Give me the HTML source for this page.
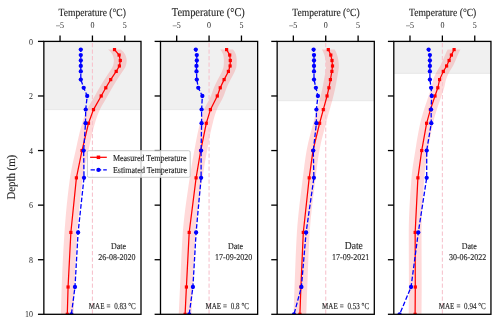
<!DOCTYPE html><html><head><meta charset="utf-8"><style>html,body{margin:0;padding:0;background:#fff;width:500px;height:322px;overflow:hidden}svg{display:block;will-change:transform}text{font-family:'Liberation Serif', serif;fill:#262626;stroke:#262626;stroke-width:0.12px;text-rendering:geometricPrecision}</style></head><body>
<svg width="500" height="322" viewBox="0 0 500 322">
<defs>
<clipPath id="c0"><rect x="43.85" y="41.40" width="97.15" height="272.90"/></clipPath>
<clipPath id="c1"><rect x="160.50" y="41.40" width="97.15" height="272.90"/></clipPath>
<clipPath id="c2"><rect x="277.15" y="41.40" width="97.15" height="272.90"/></clipPath>
<clipPath id="c3"><rect x="393.80" y="41.40" width="97.15" height="272.90"/></clipPath>
</defs>
<g clip-path="url(#c0)">
<rect x="43.85" y="41.40" width="97.15" height="68.20" fill="#f0f0f0"/>
<line x1="43.85" y1="109.60" x2="141.00" y2="109.60" stroke="#e4e4e4" stroke-width="0.8"/>
<polygon points="108.10,49.59 110.53,51.86 112.29,54.14 113.16,56.41 113.73,58.69 113.89,60.96 113.62,63.24 113.11,65.51 112.21,67.79 110.71,70.06 109.22,72.34 107.68,74.61 106.11,76.89 104.58,79.16 103.16,81.44 101.79,83.71 100.45,85.99 99.13,88.26 97.84,90.54 96.57,92.81 95.30,95.08 94.01,97.36 92.65,99.63 91.28,101.91 89.94,104.18 88.66,106.46 87.51,108.73 86.50,111.01 85.56,113.28 84.67,115.56 83.85,117.83 83.08,120.11 82.37,122.38 81.70,124.66 81.06,126.93 80.46,129.21 79.88,131.48 79.33,133.76 78.80,136.03 78.28,138.31 77.77,140.58 77.27,142.86 76.78,145.13 76.29,147.41 75.79,149.68 75.29,151.96 74.78,154.23 74.26,156.51 73.74,158.78 73.23,161.06 72.72,163.33 72.23,165.61 71.75,167.88 71.30,170.16 70.88,172.43 70.48,174.71 70.13,176.98 69.80,179.26 69.49,181.53 69.19,183.81 68.90,186.08 68.61,188.36 68.33,190.63 68.06,192.91 67.80,195.18 67.54,197.46 67.30,199.73 67.06,202.01 66.82,204.28 66.60,206.56 66.38,208.83 66.17,211.10 65.96,213.38 65.76,215.65 65.57,217.93 65.38,220.20 65.20,222.48 65.02,224.75 64.85,227.03 64.69,229.30 64.53,231.58 64.37,233.85 64.22,236.13 64.07,238.40 63.93,240.68 63.79,242.95 63.65,245.23 63.52,247.50 63.38,249.78 63.26,252.05 63.13,254.33 63.01,256.60 62.89,258.88 62.77,261.15 62.66,263.43 62.55,265.70 62.44,267.98 62.34,270.25 62.24,272.53 62.14,274.80 62.05,277.08 61.96,279.35 61.87,281.63 61.78,283.90 61.70,286.18 61.62,288.45 61.54,290.73 61.47,293.00 61.40,295.28 61.33,297.55 61.26,299.83 61.19,302.10 61.13,304.38 61.07,306.65 61.02,308.93 60.97,311.20 60.92,313.48 60.90,315.75 60.90,318.03 60.90,320.30 73.70,320.30 73.70,318.03 73.70,315.75 73.72,313.48 73.77,311.20 73.82,308.93 73.87,306.65 73.93,304.38 73.99,302.10 74.06,299.83 74.13,297.55 74.20,295.28 74.27,293.00 74.34,290.73 74.42,288.45 74.50,286.18 74.58,283.90 74.67,281.63 74.76,279.35 74.85,277.08 74.94,274.80 75.04,272.53 75.14,270.25 75.24,267.98 75.35,265.70 75.46,263.43 75.57,261.15 75.69,258.88 75.81,256.60 75.93,254.33 76.06,252.05 76.18,249.78 76.32,247.50 76.45,245.23 76.59,242.95 76.73,240.68 76.87,238.40 77.02,236.13 77.17,233.85 77.33,231.58 77.49,229.30 77.65,227.03 77.82,224.75 78.00,222.48 78.18,220.20 78.37,217.93 78.56,215.65 78.76,213.38 78.97,211.10 79.18,208.83 79.40,206.56 79.62,204.28 79.86,202.01 80.10,199.73 80.34,197.46 80.60,195.18 80.86,192.91 81.13,190.63 81.41,188.36 81.70,186.08 81.99,183.81 82.29,181.53 82.60,179.26 82.93,176.98 83.28,174.71 83.68,172.43 84.10,170.16 84.55,167.88 85.03,165.61 85.52,163.33 86.03,161.06 86.54,158.78 87.06,156.51 87.58,154.23 88.09,151.96 88.59,149.68 89.09,147.41 89.58,145.13 90.07,142.86 90.57,140.58 91.08,138.31 91.60,136.03 92.13,133.76 92.68,131.48 93.26,129.21 93.86,126.93 94.50,124.66 95.17,122.38 95.88,120.11 96.65,117.83 97.47,115.56 98.36,113.28 99.30,111.01 100.31,108.73 101.46,106.46 102.74,104.18 104.08,101.91 105.45,99.63 106.81,97.36 108.10,95.08 109.37,92.81 110.64,90.54 111.93,88.26 113.25,85.99 114.59,83.71 115.96,81.44 117.38,79.16 118.91,76.89 120.48,74.61 122.02,72.34 123.51,70.06 125.01,67.79 125.91,65.51 126.42,63.24 126.69,60.96 126.53,58.69 125.96,56.41 125.09,54.14 123.33,51.86 120.90,49.59" fill="#ff0000" fill-opacity="0.15"/>
<line x1="92.43" y1="41.4" x2="92.43" y2="314.3" stroke="#f7c4ce" stroke-width="1.1" stroke-dasharray="4.3 2.2" stroke-dashoffset="5.0"/>
<polyline points="114.50,49.59 119.10,55.05 120.30,60.50 119.40,65.96 116.20,71.42 110.70,79.61 105.80,87.79 101.20,95.98 93.50,109.62 88.50,123.27 82.00,150.56 76.40,177.85 70.87,232.43 68.07,287.01 67.30,314.30" fill="none" stroke="#ff0000" stroke-width="1.25"/>
<rect x="112.90" y="47.99" width="3.2" height="3.2" fill="#ff0000"/>
<rect x="117.50" y="53.45" width="3.2" height="3.2" fill="#ff0000"/>
<rect x="118.70" y="58.90" width="3.2" height="3.2" fill="#ff0000"/>
<rect x="117.80" y="64.36" width="3.2" height="3.2" fill="#ff0000"/>
<rect x="114.60" y="69.82" width="3.2" height="3.2" fill="#ff0000"/>
<rect x="109.10" y="78.01" width="3.2" height="3.2" fill="#ff0000"/>
<rect x="104.20" y="86.19" width="3.2" height="3.2" fill="#ff0000"/>
<rect x="99.60" y="94.38" width="3.2" height="3.2" fill="#ff0000"/>
<rect x="91.90" y="108.03" width="3.2" height="3.2" fill="#ff0000"/>
<rect x="86.90" y="121.67" width="3.2" height="3.2" fill="#ff0000"/>
<rect x="80.40" y="148.96" width="3.2" height="3.2" fill="#ff0000"/>
<rect x="74.80" y="176.25" width="3.2" height="3.2" fill="#ff0000"/>
<rect x="69.27" y="230.83" width="3.2" height="3.2" fill="#ff0000"/>
<rect x="66.47" y="285.41" width="3.2" height="3.2" fill="#ff0000"/>
<rect x="65.70" y="312.70" width="3.2" height="3.2" fill="#ff0000"/>
<polyline points="80.80,49.59 80.80,55.05 80.80,60.50 80.80,65.96 80.80,71.42 80.80,79.61 83.70,87.79 87.20,95.98 85.70,109.62 85.50,123.27 83.66,150.56 84.00,177.85 78.10,232.43 74.97,287.01 71.40,314.30" fill="none" stroke="#0000ff" stroke-width="1.3" stroke-dasharray="4.6 2" stroke-dashoffset="2.3"/>
<circle cx="80.80" cy="49.59" r="2.15" fill="#0000ff"/>
<circle cx="80.80" cy="55.05" r="2.15" fill="#0000ff"/>
<circle cx="80.80" cy="60.50" r="2.15" fill="#0000ff"/>
<circle cx="80.80" cy="65.96" r="2.15" fill="#0000ff"/>
<circle cx="80.80" cy="71.42" r="2.15" fill="#0000ff"/>
<circle cx="80.80" cy="79.61" r="2.15" fill="#0000ff"/>
<circle cx="83.70" cy="87.79" r="2.15" fill="#0000ff"/>
<circle cx="87.20" cy="95.98" r="2.15" fill="#0000ff"/>
<circle cx="85.70" cy="109.62" r="2.15" fill="#0000ff"/>
<circle cx="85.50" cy="123.27" r="2.15" fill="#0000ff"/>
<circle cx="83.66" cy="150.56" r="2.15" fill="#0000ff"/>
<circle cx="84.00" cy="177.85" r="2.15" fill="#0000ff"/>
<circle cx="78.10" cy="232.43" r="2.15" fill="#0000ff"/>
<circle cx="74.97" cy="287.01" r="2.15" fill="#0000ff"/>
<circle cx="71.40" cy="314.30" r="2.15" fill="#0000ff"/>
</g>
<rect x="43.85" y="41.40" width="97.15" height="272.90" fill="none" stroke="#000" stroke-width="1.3"/>
<line x1="60.04" y1="41.4" x2="60.04" y2="35.50" stroke="#000" stroke-width="1.3"/>
<text transform="translate(60.04,28.30) scale(1.0,1.12)" font-size="8.0" text-anchor="middle" style="stroke-width:0px">–5</text>
<line x1="92.43" y1="41.4" x2="92.43" y2="35.50" stroke="#000" stroke-width="1.3"/>
<text transform="translate(92.43,28.30) scale(1.0,1.12)" font-size="8.0" text-anchor="middle" style="stroke-width:0px">0</text>
<line x1="124.81" y1="41.4" x2="124.81" y2="35.50" stroke="#000" stroke-width="1.3"/>
<text transform="translate(124.81,28.30) scale(1.0,1.12)" font-size="8.0" text-anchor="middle" style="stroke-width:0px">5</text>
<line x1="37.95" y1="41.40" x2="43.85" y2="41.40" stroke="#000" stroke-width="1.3"/>
<text transform="translate(33.00,44.50) scale(1.0,1.12)" font-size="8.0" text-anchor="end" style="stroke-width:0px">0</text>
<line x1="37.95" y1="95.98" x2="43.85" y2="95.98" stroke="#000" stroke-width="1.3"/>
<text transform="translate(33.00,99.08) scale(1.0,1.12)" font-size="8.0" text-anchor="end" style="stroke-width:0px">2</text>
<line x1="37.95" y1="150.56" x2="43.85" y2="150.56" stroke="#000" stroke-width="1.3"/>
<text transform="translate(33.00,153.66) scale(1.0,1.12)" font-size="8.0" text-anchor="end" style="stroke-width:0px">4</text>
<line x1="37.95" y1="205.14" x2="43.85" y2="205.14" stroke="#000" stroke-width="1.3"/>
<text transform="translate(33.00,208.24) scale(1.0,1.12)" font-size="8.0" text-anchor="end" style="stroke-width:0px">6</text>
<line x1="37.95" y1="259.72" x2="43.85" y2="259.72" stroke="#000" stroke-width="1.3"/>
<text transform="translate(33.00,262.82) scale(1.0,1.12)" font-size="8.0" text-anchor="end" style="stroke-width:0px">8</text>
<line x1="37.95" y1="314.30" x2="43.85" y2="314.30" stroke="#000" stroke-width="1.3"/>
<text transform="translate(33.00,317.40) scale(1.0,1.12)" font-size="8.0" text-anchor="end" style="stroke-width:0px">10</text>
<text transform="translate(92.28,15.80) scale(1.0,1.15)" font-size="9.6" text-anchor="middle">Temperature (°C)</text>
<text transform="translate(118.45,249.20) scale(1.0,1.12)" font-size="8" text-anchor="middle">Date</text>
<text transform="translate(116.90,259.90) scale(1.0,1.12)" font-size="8" text-anchor="middle">26-08-2020</text>
<text transform="translate(88.75,309.20) scale(0.93,1.2)" font-size="7.6">MAE</text>
<text transform="translate(106.45,309.20) scale(0.93,1.2)" font-size="7.6">=</text>
<text transform="translate(114.15,309.20) scale(0.93,1.2)" font-size="7.6">0.83 °C</text>
<g clip-path="url(#c1)">
<rect x="160.50" y="41.40" width="97.15" height="68.20" fill="#f0f0f0"/>
<line x1="160.50" y1="109.60" x2="257.65" y2="109.60" stroke="#e4e4e4" stroke-width="0.8"/>
<polygon points="220.20,49.59 221.88,51.86 223.06,54.14 223.54,56.41 223.82,58.69 223.90,60.96 223.84,63.24 223.73,65.51 223.36,67.79 222.54,70.06 221.62,72.34 220.47,74.61 219.18,76.89 217.93,79.16 216.79,81.44 215.68,83.71 214.62,85.99 213.66,88.26 212.84,90.54 212.07,92.81 211.26,95.08 210.29,97.36 209.14,99.63 207.89,101.91 206.62,104.18 205.41,106.46 204.36,108.73 203.49,111.01 202.71,113.28 202.00,115.56 201.33,117.83 200.71,120.11 200.12,122.38 199.56,124.66 199.02,126.93 198.50,129.21 198.00,131.48 197.52,133.76 197.06,136.03 196.61,138.31 196.17,140.58 195.73,142.86 195.31,145.13 194.88,147.41 194.46,149.68 194.04,151.96 193.63,154.23 193.22,156.51 192.81,158.78 192.41,161.06 192.02,163.33 191.63,165.61 191.25,167.88 190.88,170.16 190.52,172.43 190.17,174.71 189.83,176.98 189.49,179.26 189.16,181.53 188.82,183.81 188.48,186.08 188.14,188.36 187.81,190.63 187.47,192.91 187.14,195.18 186.82,197.46 186.49,199.73 186.17,202.01 185.86,204.28 185.56,206.56 185.26,208.83 184.97,211.10 184.69,213.38 184.42,215.65 184.16,217.93 183.91,220.20 183.67,222.48 183.45,224.75 183.24,227.03 183.04,229.30 182.86,231.58 182.70,233.85 182.54,236.13 182.39,238.40 182.25,240.68 182.11,242.95 181.98,245.23 181.85,247.50 181.73,249.78 181.61,252.05 181.50,254.33 181.38,256.60 181.28,258.88 181.17,261.15 181.07,263.43 180.97,265.70 180.87,267.98 180.77,270.25 180.67,272.53 180.56,274.80 180.46,277.08 180.36,279.35 180.26,281.63 180.15,283.90 180.04,286.18 179.93,288.45 179.82,290.73 179.71,293.00 179.60,295.28 179.49,297.55 179.38,299.83 179.27,302.10 179.16,304.38 179.06,306.65 178.95,308.93 178.84,311.20 178.74,313.48 178.70,315.75 178.70,318.03 178.70,320.30 191.50,320.30 191.50,318.03 191.50,315.75 191.54,313.48 191.64,311.20 191.75,308.93 191.86,306.65 191.96,304.38 192.07,302.10 192.18,299.83 192.29,297.55 192.40,295.28 192.51,293.00 192.62,290.73 192.73,288.45 192.84,286.18 192.95,283.90 193.06,281.63 193.16,279.35 193.26,277.08 193.36,274.80 193.47,272.53 193.57,270.25 193.67,267.98 193.77,265.70 193.87,263.43 193.97,261.15 194.08,258.88 194.18,256.60 194.30,254.33 194.41,252.05 194.53,249.78 194.65,247.50 194.78,245.23 194.91,242.95 195.05,240.68 195.19,238.40 195.34,236.13 195.50,233.85 195.66,231.58 195.84,229.30 196.04,227.03 196.25,224.75 196.47,222.48 196.71,220.20 196.96,217.93 197.22,215.65 197.49,213.38 197.77,211.10 198.06,208.83 198.36,206.56 198.66,204.28 198.97,202.01 199.29,199.73 199.62,197.46 199.94,195.18 200.27,192.91 200.61,190.63 200.94,188.36 201.28,186.08 201.62,183.81 201.96,181.53 202.29,179.26 202.63,176.98 202.97,174.71 203.32,172.43 203.68,170.16 204.05,167.88 204.43,165.61 204.82,163.33 205.21,161.06 205.61,158.78 206.02,156.51 206.43,154.23 206.84,151.96 207.26,149.68 207.68,147.41 208.11,145.13 208.53,142.86 208.97,140.58 209.41,138.31 209.86,136.03 210.32,133.76 210.80,131.48 211.30,129.21 211.82,126.93 212.36,124.66 212.92,122.38 213.51,120.11 214.13,117.83 214.80,115.56 215.51,113.28 216.29,111.01 217.16,108.73 218.21,106.46 219.42,104.18 220.69,101.91 221.94,99.63 223.09,97.36 224.06,95.08 224.87,92.81 225.64,90.54 226.46,88.26 227.42,85.99 228.48,83.71 229.59,81.44 230.73,79.16 231.98,76.89 233.27,74.61 234.42,72.34 235.34,70.06 236.16,67.79 236.53,65.51 236.64,63.24 236.70,60.96 236.62,58.69 236.34,56.41 235.86,54.14 234.68,51.86 233.00,49.59" fill="#ff0000" fill-opacity="0.15"/>
<line x1="209.07" y1="41.4" x2="209.07" y2="314.3" stroke="#f7c4ce" stroke-width="1.1" stroke-dasharray="4.3 2.2" stroke-dashoffset="5.0"/>
<polyline points="226.60,49.59 229.70,55.05 230.30,60.50 230.10,65.96 228.40,71.42 224.10,79.61 220.25,87.79 217.30,95.98 210.40,109.62 206.30,123.27 200.70,150.56 196.10,177.85 189.20,232.43 186.40,287.01 185.10,314.30" fill="none" stroke="#ff0000" stroke-width="1.25"/>
<rect x="225.00" y="47.99" width="3.2" height="3.2" fill="#ff0000"/>
<rect x="228.10" y="53.45" width="3.2" height="3.2" fill="#ff0000"/>
<rect x="228.70" y="58.90" width="3.2" height="3.2" fill="#ff0000"/>
<rect x="228.50" y="64.36" width="3.2" height="3.2" fill="#ff0000"/>
<rect x="226.80" y="69.82" width="3.2" height="3.2" fill="#ff0000"/>
<rect x="222.50" y="78.01" width="3.2" height="3.2" fill="#ff0000"/>
<rect x="218.65" y="86.19" width="3.2" height="3.2" fill="#ff0000"/>
<rect x="215.70" y="94.38" width="3.2" height="3.2" fill="#ff0000"/>
<rect x="208.80" y="108.03" width="3.2" height="3.2" fill="#ff0000"/>
<rect x="204.70" y="121.67" width="3.2" height="3.2" fill="#ff0000"/>
<rect x="199.10" y="148.96" width="3.2" height="3.2" fill="#ff0000"/>
<rect x="194.50" y="176.25" width="3.2" height="3.2" fill="#ff0000"/>
<rect x="187.60" y="230.83" width="3.2" height="3.2" fill="#ff0000"/>
<rect x="184.80" y="285.41" width="3.2" height="3.2" fill="#ff0000"/>
<rect x="183.50" y="312.70" width="3.2" height="3.2" fill="#ff0000"/>
<polyline points="195.80,49.59 196.80,55.05 196.80,60.50 196.50,65.96 196.50,71.42 196.80,79.61 198.26,87.79 202.36,95.98 201.60,109.62 201.60,123.27 201.10,150.56 201.10,177.85 196.10,232.43 192.90,287.01 189.20,314.30" fill="none" stroke="#0000ff" stroke-width="1.3" stroke-dasharray="4.6 2" stroke-dashoffset="2.3"/>
<circle cx="195.80" cy="49.59" r="2.15" fill="#0000ff"/>
<circle cx="196.80" cy="55.05" r="2.15" fill="#0000ff"/>
<circle cx="196.80" cy="60.50" r="2.15" fill="#0000ff"/>
<circle cx="196.50" cy="65.96" r="2.15" fill="#0000ff"/>
<circle cx="196.50" cy="71.42" r="2.15" fill="#0000ff"/>
<circle cx="196.80" cy="79.61" r="2.15" fill="#0000ff"/>
<circle cx="198.26" cy="87.79" r="2.15" fill="#0000ff"/>
<circle cx="202.36" cy="95.98" r="2.15" fill="#0000ff"/>
<circle cx="201.60" cy="109.62" r="2.15" fill="#0000ff"/>
<circle cx="201.60" cy="123.27" r="2.15" fill="#0000ff"/>
<circle cx="201.10" cy="150.56" r="2.15" fill="#0000ff"/>
<circle cx="201.10" cy="177.85" r="2.15" fill="#0000ff"/>
<circle cx="196.10" cy="232.43" r="2.15" fill="#0000ff"/>
<circle cx="192.90" cy="287.01" r="2.15" fill="#0000ff"/>
<circle cx="189.20" cy="314.30" r="2.15" fill="#0000ff"/>
</g>
<rect x="160.50" y="41.40" width="97.15" height="272.90" fill="none" stroke="#000" stroke-width="1.3"/>
<line x1="176.69" y1="41.4" x2="176.69" y2="35.50" stroke="#000" stroke-width="1.3"/>
<text transform="translate(176.69,28.30) scale(1.0,1.12)" font-size="8.0" text-anchor="middle" style="stroke-width:0px">–5</text>
<line x1="209.07" y1="41.4" x2="209.07" y2="35.50" stroke="#000" stroke-width="1.3"/>
<text transform="translate(209.07,28.30) scale(1.0,1.12)" font-size="8.0" text-anchor="middle" style="stroke-width:0px">0</text>
<line x1="241.46" y1="41.4" x2="241.46" y2="35.50" stroke="#000" stroke-width="1.3"/>
<text transform="translate(241.46,28.30) scale(1.0,1.12)" font-size="8.0" text-anchor="middle" style="stroke-width:0px">5</text>
<line x1="154.60" y1="41.40" x2="160.50" y2="41.40" stroke="#000" stroke-width="1.3"/>
<line x1="154.60" y1="95.98" x2="160.50" y2="95.98" stroke="#000" stroke-width="1.3"/>
<line x1="154.60" y1="150.56" x2="160.50" y2="150.56" stroke="#000" stroke-width="1.3"/>
<line x1="154.60" y1="205.14" x2="160.50" y2="205.14" stroke="#000" stroke-width="1.3"/>
<line x1="154.60" y1="259.72" x2="160.50" y2="259.72" stroke="#000" stroke-width="1.3"/>
<line x1="154.60" y1="314.30" x2="160.50" y2="314.30" stroke="#000" stroke-width="1.3"/>
<text transform="translate(208.32,15.80) scale(1.0,1.15)" font-size="10.4" text-anchor="middle">Temperature (°C)</text>
<text transform="translate(235.45,249.20) scale(1.0,1.12)" font-size="8" text-anchor="middle">Date</text>
<text transform="translate(233.65,259.90) scale(1.0,1.12)" font-size="8" text-anchor="middle">17-09-2020</text>
<text transform="translate(205.40,309.20) scale(0.93,1.2)" font-size="7.6">MAE</text>
<text transform="translate(223.10,309.20) scale(0.93,1.2)" font-size="7.6">=</text>
<text transform="translate(230.80,309.20) scale(0.93,1.2)" font-size="7.6">0.8 °C</text>
<g clip-path="url(#c2)">
<rect x="277.15" y="41.40" width="97.15" height="59.30" fill="#f0f0f0"/>
<line x1="277.15" y1="100.70" x2="374.30" y2="100.70" stroke="#e4e4e4" stroke-width="0.8"/>
<polygon points="321.90,49.59 323.12,51.86 324.10,54.14 324.78,56.41 325.31,58.69 325.66,60.96 325.94,63.24 326.09,65.51 326.00,67.79 325.70,70.06 325.37,72.34 324.97,74.61 324.53,76.89 324.08,79.16 323.67,81.44 323.27,83.71 322.85,85.99 322.40,88.26 321.92,90.54 321.41,92.81 320.87,95.08 320.30,97.36 319.70,99.63 319.07,101.91 318.43,104.18 317.78,106.46 317.14,108.73 316.52,111.01 315.89,113.28 315.27,115.56 314.64,117.83 314.03,120.11 313.43,122.38 312.84,124.66 312.24,126.93 311.64,129.21 311.04,131.48 310.44,133.76 309.85,136.03 309.27,138.31 308.72,140.58 308.18,142.86 307.67,145.13 307.20,147.41 306.76,149.68 306.36,151.96 305.98,154.23 305.62,156.51 305.28,158.78 304.95,161.06 304.64,163.33 304.33,165.61 304.04,167.88 303.75,170.16 303.47,172.43 303.19,174.71 302.91,176.98 302.63,179.26 302.34,181.53 302.06,183.81 301.77,186.08 301.48,188.36 301.20,190.63 300.91,192.91 300.63,195.18 300.35,197.46 300.07,199.73 299.80,202.01 299.53,204.28 299.27,206.56 299.02,208.83 298.77,211.10 298.52,213.38 298.29,215.65 298.07,217.93 297.85,220.20 297.65,222.48 297.46,224.75 297.28,227.03 297.11,229.30 296.95,231.58 296.81,233.85 296.68,236.13 296.55,238.40 296.42,240.68 296.30,242.95 296.19,245.23 296.08,247.50 295.97,249.78 295.87,252.05 295.77,254.33 295.67,256.60 295.58,258.88 295.49,261.15 295.40,263.43 295.31,265.70 295.22,267.98 295.14,270.25 295.05,272.53 294.97,274.80 294.88,277.08 294.79,279.35 294.71,281.63 294.62,283.90 294.53,286.18 294.44,288.45 294.35,290.73 294.27,293.00 294.18,295.28 294.10,297.55 294.01,299.83 293.93,302.10 293.85,304.38 293.77,306.65 293.69,308.93 293.61,311.20 293.53,313.48 293.50,315.75 293.50,318.03 293.50,320.30 306.30,320.30 306.30,318.03 306.30,315.75 306.33,313.48 306.41,311.20 306.49,308.93 306.57,306.65 306.65,304.38 306.73,302.10 306.81,299.83 306.90,297.55 306.98,295.28 307.07,293.00 307.15,290.73 307.24,288.45 307.33,286.18 307.42,283.90 307.51,281.63 307.59,279.35 307.68,277.08 307.77,274.80 307.85,272.53 307.94,270.25 308.02,267.98 308.11,265.70 308.20,263.43 308.29,261.15 308.38,258.88 308.47,256.60 308.57,254.33 308.67,252.05 308.77,249.78 308.88,247.50 308.99,245.23 309.10,242.95 309.22,240.68 309.35,238.40 309.48,236.13 309.61,233.85 309.75,231.58 309.91,229.30 310.08,227.03 310.26,224.75 310.45,222.48 310.65,220.20 310.87,217.93 311.09,215.65 311.32,213.38 311.57,211.10 311.82,208.83 312.07,206.56 312.33,204.28 312.60,202.01 312.87,199.73 313.15,197.46 313.43,195.18 313.71,192.91 314.00,190.63 314.28,188.36 314.57,186.08 314.86,183.81 315.14,181.53 315.43,179.26 315.71,176.98 315.99,174.71 316.27,172.43 316.55,170.16 316.84,167.88 317.13,165.61 317.44,163.33 317.75,161.06 318.08,158.78 318.42,156.51 318.78,154.23 319.16,151.96 319.56,149.68 320.00,147.41 320.47,145.13 320.98,142.86 321.52,140.58 322.07,138.31 322.65,136.03 323.24,133.76 323.84,131.48 324.44,129.21 325.04,126.93 325.64,124.66 326.23,122.38 326.83,120.11 327.44,117.83 328.07,115.56 328.69,113.28 329.32,111.01 329.94,108.73 330.58,106.46 331.23,104.18 331.87,101.91 332.50,99.63 333.10,97.36 333.67,95.08 334.21,92.81 334.72,90.54 335.20,88.26 335.65,85.99 336.07,83.71 336.47,81.44 336.88,79.16 337.33,76.89 337.77,74.61 338.17,72.34 338.50,70.06 338.80,67.79 338.89,65.51 338.74,63.24 338.46,60.96 338.11,58.69 337.58,56.41 336.90,54.14 335.92,51.86 334.70,49.59" fill="#ff0000" fill-opacity="0.15"/>
<line x1="325.73" y1="41.4" x2="325.73" y2="314.3" stroke="#f7c4ce" stroke-width="1.1" stroke-dasharray="4.3 2.2" stroke-dashoffset="5.0"/>
<polyline points="328.30,49.59 330.80,55.05 332.00,60.50 332.50,65.96 331.90,71.42 330.40,79.61 328.90,87.79 327.05,95.98 323.30,109.62 319.60,123.27 313.00,150.56 309.20,177.85 303.30,232.43 300.90,287.01 299.90,314.30" fill="none" stroke="#ff0000" stroke-width="1.25"/>
<rect x="326.70" y="47.99" width="3.2" height="3.2" fill="#ff0000"/>
<rect x="329.20" y="53.45" width="3.2" height="3.2" fill="#ff0000"/>
<rect x="330.40" y="58.90" width="3.2" height="3.2" fill="#ff0000"/>
<rect x="330.90" y="64.36" width="3.2" height="3.2" fill="#ff0000"/>
<rect x="330.30" y="69.82" width="3.2" height="3.2" fill="#ff0000"/>
<rect x="328.80" y="78.01" width="3.2" height="3.2" fill="#ff0000"/>
<rect x="327.30" y="86.19" width="3.2" height="3.2" fill="#ff0000"/>
<rect x="325.45" y="94.38" width="3.2" height="3.2" fill="#ff0000"/>
<rect x="321.70" y="108.03" width="3.2" height="3.2" fill="#ff0000"/>
<rect x="318.00" y="121.67" width="3.2" height="3.2" fill="#ff0000"/>
<rect x="311.40" y="148.96" width="3.2" height="3.2" fill="#ff0000"/>
<rect x="307.60" y="176.25" width="3.2" height="3.2" fill="#ff0000"/>
<rect x="301.70" y="230.83" width="3.2" height="3.2" fill="#ff0000"/>
<rect x="299.30" y="285.41" width="3.2" height="3.2" fill="#ff0000"/>
<rect x="298.30" y="312.70" width="3.2" height="3.2" fill="#ff0000"/>
<polyline points="313.60,49.59 314.00,55.05 314.00,60.50 314.00,65.96 314.00,71.42 314.00,79.61 315.90,87.79 317.90,95.98 316.40,109.62 316.40,123.27 313.30,150.56 313.90,177.85 306.10,232.43 301.40,287.01 294.00,314.30" fill="none" stroke="#0000ff" stroke-width="1.3" stroke-dasharray="4.6 2" stroke-dashoffset="2.3"/>
<circle cx="313.60" cy="49.59" r="2.15" fill="#0000ff"/>
<circle cx="314.00" cy="55.05" r="2.15" fill="#0000ff"/>
<circle cx="314.00" cy="60.50" r="2.15" fill="#0000ff"/>
<circle cx="314.00" cy="65.96" r="2.15" fill="#0000ff"/>
<circle cx="314.00" cy="71.42" r="2.15" fill="#0000ff"/>
<circle cx="314.00" cy="79.61" r="2.15" fill="#0000ff"/>
<circle cx="315.90" cy="87.79" r="2.15" fill="#0000ff"/>
<circle cx="317.90" cy="95.98" r="2.15" fill="#0000ff"/>
<circle cx="316.40" cy="109.62" r="2.15" fill="#0000ff"/>
<circle cx="316.40" cy="123.27" r="2.15" fill="#0000ff"/>
<circle cx="313.30" cy="150.56" r="2.15" fill="#0000ff"/>
<circle cx="313.90" cy="177.85" r="2.15" fill="#0000ff"/>
<circle cx="306.10" cy="232.43" r="2.15" fill="#0000ff"/>
<circle cx="301.40" cy="287.01" r="2.15" fill="#0000ff"/>
<circle cx="294.00" cy="314.30" r="2.15" fill="#0000ff"/>
</g>
<rect x="277.15" y="41.40" width="97.15" height="272.90" fill="none" stroke="#000" stroke-width="1.3"/>
<line x1="293.34" y1="41.4" x2="293.34" y2="35.50" stroke="#000" stroke-width="1.3"/>
<text transform="translate(293.34,28.30) scale(1.0,1.12)" font-size="8.0" text-anchor="middle" style="stroke-width:0px">–5</text>
<line x1="325.73" y1="41.4" x2="325.73" y2="35.50" stroke="#000" stroke-width="1.3"/>
<text transform="translate(325.73,28.30) scale(1.0,1.12)" font-size="8.0" text-anchor="middle" style="stroke-width:0px">0</text>
<line x1="358.11" y1="41.4" x2="358.11" y2="35.50" stroke="#000" stroke-width="1.3"/>
<text transform="translate(358.11,28.30) scale(1.0,1.12)" font-size="8.0" text-anchor="middle" style="stroke-width:0px">5</text>
<line x1="271.25" y1="41.40" x2="277.15" y2="41.40" stroke="#000" stroke-width="1.3"/>
<line x1="271.25" y1="95.98" x2="277.15" y2="95.98" stroke="#000" stroke-width="1.3"/>
<line x1="271.25" y1="150.56" x2="277.15" y2="150.56" stroke="#000" stroke-width="1.3"/>
<line x1="271.25" y1="205.14" x2="277.15" y2="205.14" stroke="#000" stroke-width="1.3"/>
<line x1="271.25" y1="259.72" x2="277.15" y2="259.72" stroke="#000" stroke-width="1.3"/>
<line x1="271.25" y1="314.30" x2="277.15" y2="314.30" stroke="#000" stroke-width="1.3"/>
<text transform="translate(325.98,15.80) scale(1.0,1.15)" font-size="9.6" text-anchor="middle">Temperature (°C)</text>
<text transform="translate(353.80,249.20) scale(1.0,1.12)" font-size="9.6" text-anchor="middle">Date</text>
<text transform="translate(350.65,259.90) scale(1.0,1.12)" font-size="8" text-anchor="middle">17-09-2021</text>
<text transform="translate(322.05,309.20) scale(0.93,1.2)" font-size="7.6">MAE</text>
<text transform="translate(339.75,309.20) scale(0.93,1.2)" font-size="7.6">=</text>
<text transform="translate(347.45,309.20) scale(0.93,1.2)" font-size="7.6">0.53 °C</text>
<g clip-path="url(#c3)">
<rect x="393.80" y="41.40" width="97.15" height="32.00" fill="#f0f0f0"/>
<line x1="393.80" y1="73.40" x2="490.95" y2="73.40" stroke="#e4e4e4" stroke-width="0.8"/>
<polygon points="447.70,49.59 446.52,51.86 445.42,54.14 444.40,56.41 443.47,58.69 442.50,60.96 441.50,63.24 440.43,65.51 439.13,67.79 437.68,70.06 436.42,72.34 435.26,74.61 434.20,76.89 433.34,79.16 432.73,81.44 432.27,83.71 431.83,85.99 431.27,88.26 430.55,90.54 429.74,92.81 428.91,95.08 428.13,97.36 427.34,99.63 426.55,101.91 425.77,104.18 425.01,106.46 424.28,108.73 423.58,111.01 422.89,113.28 422.22,115.56 421.57,117.83 420.96,120.11 420.40,122.38 419.89,124.66 419.41,126.93 418.95,129.21 418.51,131.48 418.08,133.76 417.68,136.03 417.28,138.31 416.90,140.58 416.52,142.86 416.16,145.13 415.80,147.41 415.44,149.68 415.08,151.96 414.71,154.23 414.35,156.51 413.98,158.78 413.62,161.06 413.26,163.33 412.92,165.61 412.60,167.88 412.30,170.16 412.03,172.43 411.78,174.71 411.57,176.98 411.39,179.26 411.21,181.53 411.04,183.81 410.87,186.08 410.70,188.36 410.53,190.63 410.37,192.91 410.21,195.18 410.06,197.46 409.92,199.73 409.77,202.01 409.64,204.28 409.51,206.56 409.40,208.83 409.29,211.10 409.18,213.38 409.09,215.65 409.01,217.93 408.94,220.20 408.88,222.48 408.83,224.75 408.79,227.03 408.76,229.30 408.75,231.58 408.75,233.85 408.75,236.13 408.75,238.40 408.76,240.68 408.76,242.95 408.77,245.23 408.78,247.50 408.79,249.78 408.79,252.05 408.80,254.33 408.81,256.60 408.82,258.88 408.83,261.15 408.84,263.43 408.85,265.70 408.86,267.98 408.87,270.25 408.87,272.53 408.88,274.80 408.89,277.08 408.89,279.35 408.90,281.63 408.90,283.90 408.90,286.18 408.90,288.45 408.89,290.73 408.89,293.00 408.87,295.28 408.86,297.55 408.84,299.83 408.82,302.10 408.80,304.38 408.78,306.65 408.76,308.93 408.73,311.20 408.71,313.48 408.70,315.75 408.70,318.03 408.70,320.30 421.50,320.30 421.50,318.03 421.50,315.75 421.51,313.48 421.53,311.20 421.56,308.93 421.58,306.65 421.60,304.38 421.62,302.10 421.64,299.83 421.66,297.55 421.67,295.28 421.69,293.00 421.69,290.73 421.70,288.45 421.70,286.18 421.70,283.90 421.70,281.63 421.69,279.35 421.69,277.08 421.68,274.80 421.67,272.53 421.67,270.25 421.66,267.98 421.65,265.70 421.64,263.43 421.63,261.15 421.62,258.88 421.61,256.60 421.60,254.33 421.59,252.05 421.59,249.78 421.58,247.50 421.57,245.23 421.56,242.95 421.56,240.68 421.55,238.40 421.55,236.13 421.55,233.85 421.55,231.58 421.56,229.30 421.59,227.03 421.63,224.75 421.68,222.48 421.74,220.20 421.81,217.93 421.89,215.65 421.98,213.38 422.09,211.10 422.20,208.83 422.31,206.56 422.44,204.28 422.57,202.01 422.72,199.73 422.86,197.46 423.01,195.18 423.17,192.91 423.33,190.63 423.50,188.36 423.67,186.08 423.84,183.81 424.01,181.53 424.19,179.26 424.37,176.98 424.58,174.71 424.83,172.43 425.10,170.16 425.40,167.88 425.72,165.61 426.06,163.33 426.42,161.06 426.78,158.78 427.15,156.51 427.51,154.23 427.88,151.96 428.24,149.68 428.60,147.41 428.96,145.13 429.32,142.86 429.70,140.58 430.08,138.31 430.48,136.03 430.88,133.76 431.31,131.48 431.75,129.21 432.21,126.93 432.69,124.66 433.20,122.38 433.76,120.11 434.37,117.83 435.02,115.56 435.69,113.28 436.38,111.01 437.08,108.73 437.81,106.46 438.57,104.18 439.35,101.91 440.14,99.63 440.93,97.36 441.71,95.08 442.54,92.81 443.35,90.54 444.07,88.26 444.63,85.99 445.07,83.71 445.53,81.44 446.14,79.16 447.00,76.89 448.06,74.61 449.22,72.34 450.48,70.06 451.93,67.79 453.23,65.51 454.30,63.24 455.30,60.96 456.27,58.69 457.20,56.41 458.22,54.14 459.32,51.86 460.50,49.59" fill="#ff0000" fill-opacity="0.15"/>
<line x1="442.38" y1="41.4" x2="442.38" y2="314.3" stroke="#f7c4ce" stroke-width="1.1" stroke-dasharray="4.3 2.2" stroke-dashoffset="5.0"/>
<polyline points="454.10,49.59 451.40,55.05 449.10,60.50 446.60,65.96 443.30,71.42 439.60,79.61 437.80,87.79 435.00,95.98 430.40,109.62 426.60,123.27 421.70,150.56 417.90,177.85 415.15,232.43 415.30,287.01 415.10,314.30" fill="none" stroke="#ff0000" stroke-width="1.25"/>
<rect x="452.50" y="47.99" width="3.2" height="3.2" fill="#ff0000"/>
<rect x="449.80" y="53.45" width="3.2" height="3.2" fill="#ff0000"/>
<rect x="447.50" y="58.90" width="3.2" height="3.2" fill="#ff0000"/>
<rect x="445.00" y="64.36" width="3.2" height="3.2" fill="#ff0000"/>
<rect x="441.70" y="69.82" width="3.2" height="3.2" fill="#ff0000"/>
<rect x="438.00" y="78.01" width="3.2" height="3.2" fill="#ff0000"/>
<rect x="436.20" y="86.19" width="3.2" height="3.2" fill="#ff0000"/>
<rect x="433.40" y="94.38" width="3.2" height="3.2" fill="#ff0000"/>
<rect x="428.80" y="108.03" width="3.2" height="3.2" fill="#ff0000"/>
<rect x="425.00" y="121.67" width="3.2" height="3.2" fill="#ff0000"/>
<rect x="420.10" y="148.96" width="3.2" height="3.2" fill="#ff0000"/>
<rect x="416.30" y="176.25" width="3.2" height="3.2" fill="#ff0000"/>
<rect x="413.55" y="230.83" width="3.2" height="3.2" fill="#ff0000"/>
<rect x="413.70" y="285.41" width="3.2" height="3.2" fill="#ff0000"/>
<rect x="413.50" y="312.70" width="3.2" height="3.2" fill="#ff0000"/>
<polyline points="428.60,49.59 429.90,55.05 429.90,60.50 429.90,65.96 429.90,71.42 429.90,79.61 431.10,87.79 431.70,95.98 431.10,109.62 431.30,123.27 426.70,150.56 426.70,177.85 418.30,232.43 411.05,287.01 399.60,314.30" fill="none" stroke="#0000ff" stroke-width="1.3" stroke-dasharray="4.6 2" stroke-dashoffset="2.3"/>
<circle cx="428.60" cy="49.59" r="2.15" fill="#0000ff"/>
<circle cx="429.90" cy="55.05" r="2.15" fill="#0000ff"/>
<circle cx="429.90" cy="60.50" r="2.15" fill="#0000ff"/>
<circle cx="429.90" cy="65.96" r="2.15" fill="#0000ff"/>
<circle cx="429.90" cy="71.42" r="2.15" fill="#0000ff"/>
<circle cx="429.90" cy="79.61" r="2.15" fill="#0000ff"/>
<circle cx="431.10" cy="87.79" r="2.15" fill="#0000ff"/>
<circle cx="431.70" cy="95.98" r="2.15" fill="#0000ff"/>
<circle cx="431.10" cy="109.62" r="2.15" fill="#0000ff"/>
<circle cx="431.30" cy="123.27" r="2.15" fill="#0000ff"/>
<circle cx="426.70" cy="150.56" r="2.15" fill="#0000ff"/>
<circle cx="426.70" cy="177.85" r="2.15" fill="#0000ff"/>
<circle cx="418.30" cy="232.43" r="2.15" fill="#0000ff"/>
<circle cx="411.05" cy="287.01" r="2.15" fill="#0000ff"/>
<circle cx="399.60" cy="314.30" r="2.15" fill="#0000ff"/>
</g>
<rect x="393.80" y="41.40" width="97.15" height="272.90" fill="none" stroke="#000" stroke-width="1.3"/>
<line x1="409.99" y1="41.4" x2="409.99" y2="35.50" stroke="#000" stroke-width="1.3"/>
<text transform="translate(409.99,28.30) scale(1.0,1.12)" font-size="8.0" text-anchor="middle" style="stroke-width:0px">–5</text>
<line x1="442.38" y1="41.4" x2="442.38" y2="35.50" stroke="#000" stroke-width="1.3"/>
<text transform="translate(442.38,28.30) scale(1.0,1.12)" font-size="8.0" text-anchor="middle" style="stroke-width:0px">0</text>
<line x1="474.76" y1="41.4" x2="474.76" y2="35.50" stroke="#000" stroke-width="1.3"/>
<text transform="translate(474.76,28.30) scale(1.0,1.12)" font-size="8.0" text-anchor="middle" style="stroke-width:0px">5</text>
<line x1="387.90" y1="41.40" x2="393.80" y2="41.40" stroke="#000" stroke-width="1.3"/>
<line x1="387.90" y1="95.98" x2="393.80" y2="95.98" stroke="#000" stroke-width="1.3"/>
<line x1="387.90" y1="150.56" x2="393.80" y2="150.56" stroke="#000" stroke-width="1.3"/>
<line x1="387.90" y1="205.14" x2="393.80" y2="205.14" stroke="#000" stroke-width="1.3"/>
<line x1="387.90" y1="259.72" x2="393.80" y2="259.72" stroke="#000" stroke-width="1.3"/>
<line x1="387.90" y1="314.30" x2="393.80" y2="314.30" stroke="#000" stroke-width="1.3"/>
<text transform="translate(442.63,15.80) scale(1.0,1.15)" font-size="9.6" text-anchor="middle">Temperature (°C)</text>
<text transform="translate(469.20,249.20) scale(1.0,1.12)" font-size="8" text-anchor="middle">Date</text>
<text transform="translate(467.55,259.90) scale(1.0,1.12)" font-size="8" text-anchor="middle">30-06-2022</text>
<text transform="translate(438.70,309.20) scale(0.93,1.2)" font-size="7.6">MAE</text>
<text transform="translate(456.40,309.20) scale(0.93,1.2)" font-size="7.6">=</text>
<text transform="translate(464.10,309.20) scale(0.93,1.2)" font-size="7.6">0.94 °C</text>
<text transform="translate(14.7,177.2) rotate(-90) scale(1,1.1)" font-size="10.8" text-anchor="middle">Depth (m)</text>
<rect x="87.4" y="150.7" width="102.8" height="26.6" rx="1.5" fill="#fff" fill-opacity="0.8" stroke="#c4c4c4" stroke-width="0.9"/>
<line x1="90.1" y1="157.3" x2="106.8" y2="157.3" stroke="#ff0000" stroke-width="1.25"/>
<rect x="96.7" y="155.55" width="3.5" height="3.5" fill="#ff0000"/>
<line x1="90.6" y1="169.9" x2="106.8" y2="169.9" stroke="#0000ff" stroke-width="1.3" stroke-dasharray="4.3 2"/>
<circle cx="98.45" cy="169.9" r="2.15" fill="#0000ff"/>
<text transform="translate(112.90,160.80) scale(1.0,1.13)" font-size="8">Measured Temperature</text>
<text transform="translate(112.90,172.60) scale(1.0,1.13)" font-size="8">Estimated Temperature</text>
</svg></body></html>
